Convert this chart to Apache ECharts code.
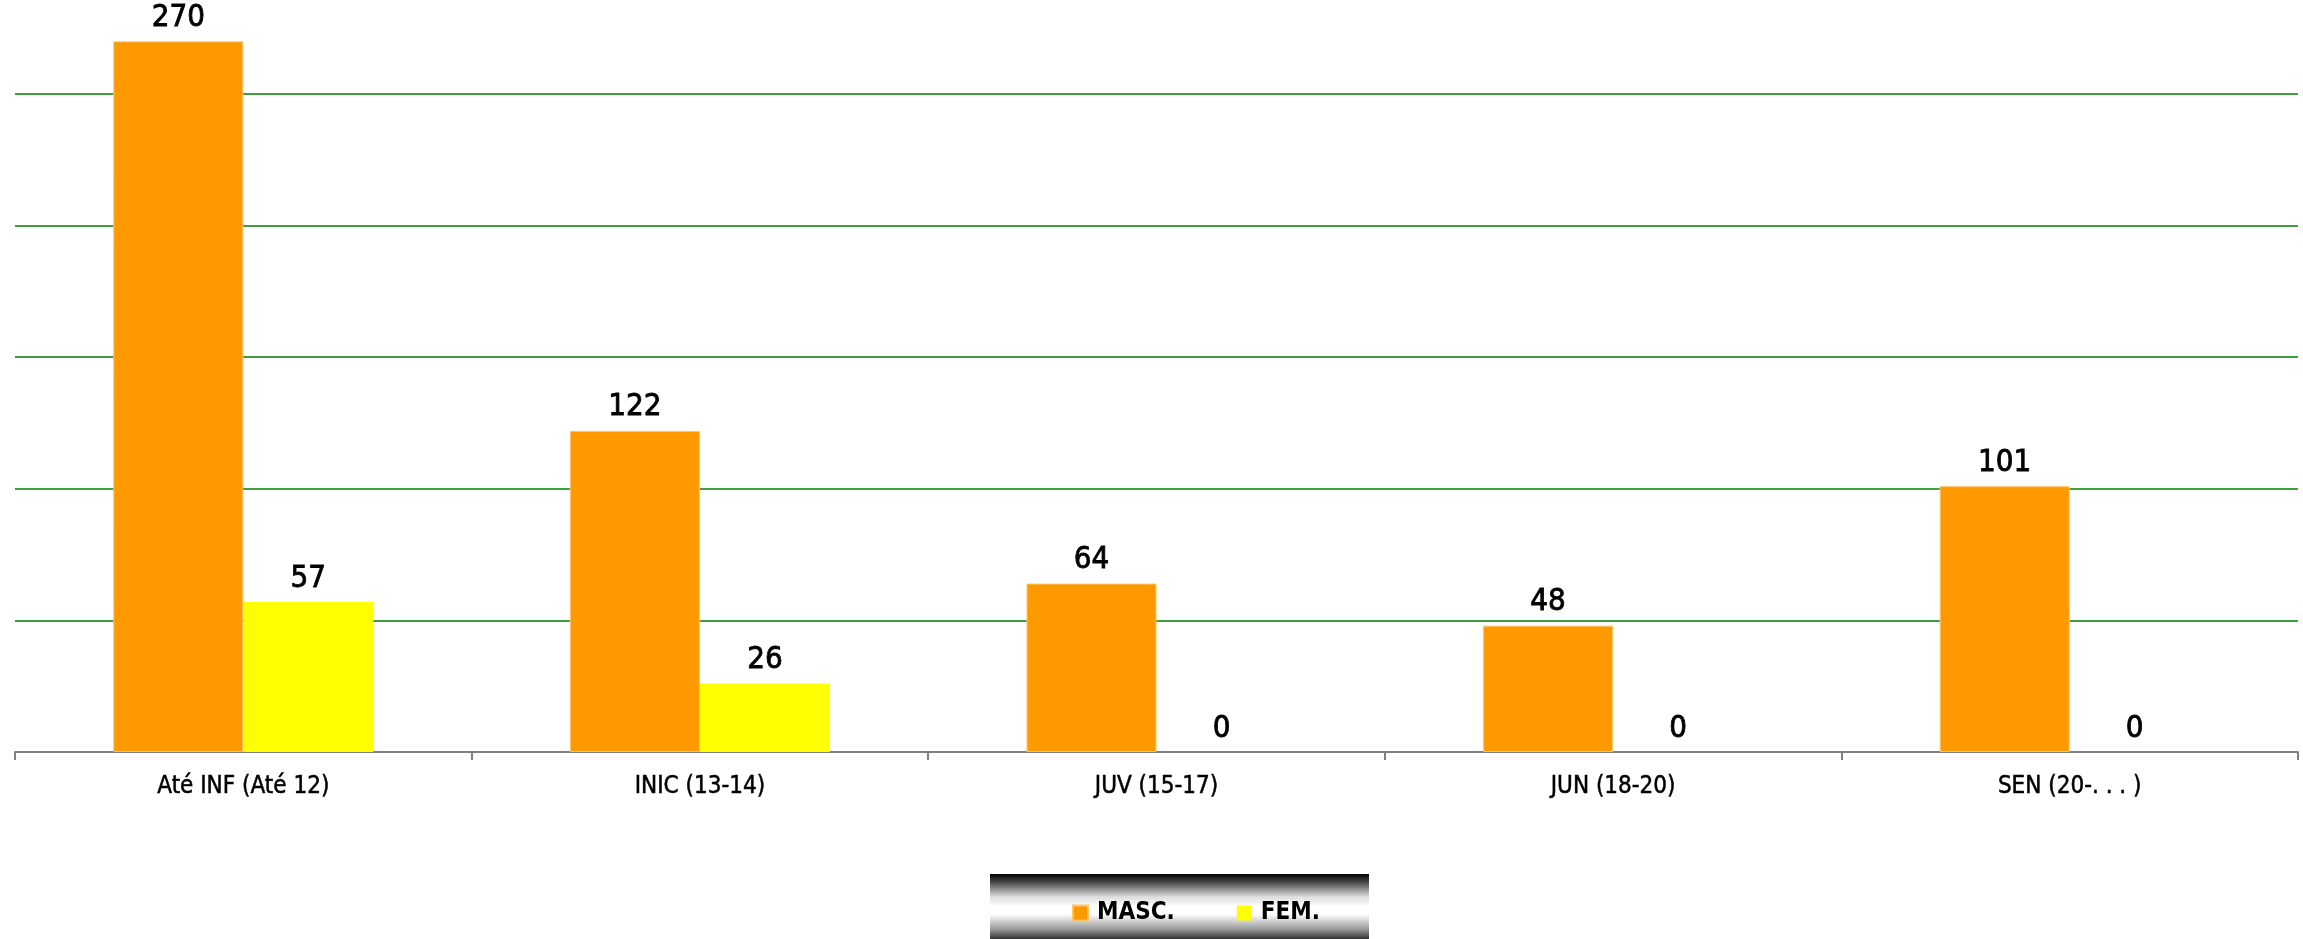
<!DOCTYPE html>
<html>
<head>
<meta charset="utf-8">
<script src="https://cdn.jsdelivr.net/npm/echarts@6/dist/echarts.min.js"></script>
<style>
  html, body { margin: 0; padding: 0; background: #fff; }
  #main { width: 2303px; height: 939px; }
</style>
</head>
<body>
<div id="main"></div>
<script>
const categories = ['Até INF (Até 12)', 'INIC (13-14)', 'JUV (15-17)', 'JUN (18-20)', 'SEN (20-. . . )'];
const masc = [270, 122, 64, 48, 101];
const fem = [57, 26, 0, 0, 0];

const font = '"DejaVu Sans Condensed", "Liberation Sans Narrow", sans-serif';

const myChart = echarts.init(document.getElementById('main'));
let option;

const valueLabel = {
  show: true,
  position: 'top',
  distance: 8,
  color: '#000',
  fontFamily: font,
  fontSize: 31,
  textBorderColor: '#000',
  textBorderWidth: 0.8
};

option = {
  animation: false,
  backgroundColor: '#fff',
  grid: { left: 15, right: 5, top: 94, bottom: 187 },
  graphic: [
    {
      type: 'rect',
      left: 990,
      top: 874,
      shape: { width: 379, height: 65 },
      style: {
        fill: new echarts.graphic.LinearGradient(0, 0, 0, 1, [
          { offset: 0, color: '#000' },
          { offset: 0.12, color: '#444' },
          { offset: 0.35, color: '#ddd' },
          { offset: 0.5, color: '#fff' },
          { offset: 0.62, color: '#fff' },
          { offset: 0.85, color: '#999' },
          { offset: 1, color: '#333' }
        ])
      },
      z: -10
    }
  ],
  legend: {
    left: 1067,
    top: 896,
    itemWidth: 15,
    itemHeight: 15,
    itemGap: 62,
    icon: 'rect',
    textStyle: {
      color: '#000',
      fontFamily: font,
      fontWeight: 'bold',
      fontSize: 24,
      padding: [0, 0, 0, 4]
    },
    data: ['MASC.', 'FEM.']
  },
  xAxis: {
    type: 'category',
    data: categories,
    axisLine: { lineStyle: { color: '#808080', width: 2 } },
    axisTick: { show: true, length: 8, lineStyle: { color: '#808080', width: 2 } },
    axisLabel: {
      color: '#000',
      fontFamily: font,
      fontSize: 24,
      margin: 23,
      interval: 0,
      textBorderColor: '#000',
      textBorderWidth: 0.5
    }
  },
  yAxis: {
    type: 'value',
    min: 0,
    max: 250,
    interval: 50,
    axisLine: { show: false },
    axisTick: { show: false },
    axisLabel: { show: false },
    splitLine: { lineStyle: { color: '#008000', width: 1.5 } }
  },
  series: [
    {
      name: 'MASC.',
      type: 'bar',
      data: masc,
      barWidth: 130,
      barGap: '0%',
      clip: false,
      itemStyle: { color: '#FF9900', borderColor: '#FFC46A', borderWidth: 1 },
      label: valueLabel
    },
    {
      name: 'FEM.',
      type: 'bar',
      data: fem,
      barWidth: 130,
      barGap: '0%',
      clip: false,
      itemStyle: { color: '#FFFF00' },
      label: valueLabel
    }
  ]
};

option && myChart.setOption(option);
</script>
</body>
</html>
